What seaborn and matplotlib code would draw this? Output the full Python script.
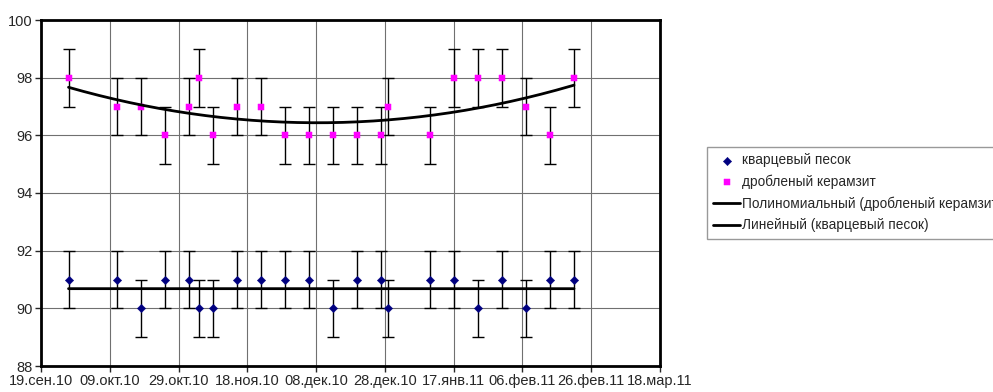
import numpy as np
import pandas as pd
import matplotlib
matplotlib.use("Agg")
import matplotlib.pyplot as plt
import matplotlib.dates as mdates
import seaborn as sns

# ==============================
# DATOS
# ==============================
fechas = ["2010-09-27", "2010-10-11", "2010-10-18", "2010-10-25", "2010-11-01",
          "2010-11-04", "2010-11-08", "2010-11-15", "2010-11-22", "2010-11-29",
          "2010-12-06", "2010-12-13", "2010-12-20", "2010-12-27", "2010-12-29",
          "2011-01-10", "2011-01-17", "2011-01-24", "2011-01-31", "2011-02-07",
          "2011-02-14", "2011-02-21"]
kvarc = [91, 91, 90, 91, 91, 90, 90, 91, 91, 91, 91, 90,
         91, 91, 90, 91, 91, 90, 91, 90, 91, 91]
keramzit = [98, 97, 97, 96, 97, 98, 96, 97, 97, 96, 96, 96,
            96, 96, 97, 96, 98, 98, 98, 97, 96, 98]
error = 1

x_ticks = pd.date_range("2010-09-19", "2011-03-18", freq="20D")
meses = ["янв", "фев", "мар", "апр", "май", "июн", "июл", "авг", "сен", "окт", "ноя", "дек"]
y_ticks = [88, 90, 92, 94, 96, 98, 100]

df = pd.DataFrame({"fecha": pd.to_datetime(fechas), "kvarc": kvarc, "keramzit": keramzit})
df["num"] = mdates.date2num(df["fecha"])

# lineas de tendencia (como en Excel)
p2 = np.polyfit(df["num"], df["keramzit"], 2)
p1 = np.polyfit(df["num"], df["kvarc"], 1)
xs = np.linspace(df["num"].min(), df["num"].max(), 200)
trend = pd.DataFrame({"num": xs, "poly": np.polyval(p2, xs), "lin": np.polyval(p1, xs)})

# ==============================
# CONFIGURACION VISUAL
# ==============================
sns.set_style("white")
plt.rcParams["font.family"] = ["Liberation Sans", "DejaVu Sans"]

fig = plt.figure(figsize=(9.93, 3.92), dpi=100)
ax = fig.add_axes([41 / 993, 26 / 392, 619 / 993, 346 / 392])

ax.errorbar(df["num"], df["keramzit"], yerr=error, fmt="none", ecolor="black",
            elinewidth=1, capsize=4, capthick=1, zorder=2)
ax.errorbar(df["num"], df["kvarc"], yerr=error, fmt="none", ecolor="black",
            elinewidth=1, capsize=4, capthick=1, zorder=2)

sns.scatterplot(data=df, x="num", y="kvarc", marker="D", color="#000080", s=18,
                edgecolor="#000080", ax=ax, zorder=3, label="кварцевый песок")
sns.scatterplot(data=df, x="num", y="keramzit", marker="s", color="#FF00FF", s=20,
                edgecolor="#FF00FF", ax=ax, zorder=3, label="дробленый керамзит")
sns.lineplot(data=trend, x="num", y="poly", color="black", linewidth=2, ax=ax,
             zorder=4, label="Полиномиальный (дробленый керамзит)")
sns.lineplot(data=trend, x="num", y="lin", color="black", linewidth=2, ax=ax,
             zorder=4, label="Линейный (кварцевый песок)")

ax.set_xlim(mdates.date2num(x_ticks[0]), mdates.date2num(x_ticks[-1]))
ax.set_ylim(88, 100)
ax.set_xticks(mdates.date2num(x_ticks))
ax.set_xticklabels([f"{d.day:02d}.{meses[d.month - 1]}.{d.year % 100:02d}" for d in x_ticks])
ax.set_yticks(y_ticks)
ax.set_xlabel("")
ax.set_ylabel("")
ax.grid(True, color="#707070", linewidth=0.8)
ax.set_axisbelow(True)
for s in ax.spines.values():
    s.set_linewidth(2)
    s.set_color("black")
ax.tick_params(axis="x", bottom=True, length=4, width=1, labelsize=10.5, pad=2)
ax.tick_params(axis="y", left=True, length=4, width=1, labelsize=10.5, pad=2)

handles, labels = ax.get_legend_handles_labels()
ax.get_legend().remove()
fig.legend(handles, labels, loc="upper left", bbox_to_anchor=(707 / 993, 1 - 147 / 392),
           borderaxespad=0, frameon=True, fancybox=False, edgecolor="#808080",
           fontsize=9.8, handlelength=2.0, handletextpad=0.1, borderpad=0.45,
           labelspacing=0.55)

plt.savefig("out.png", dpi=100)
